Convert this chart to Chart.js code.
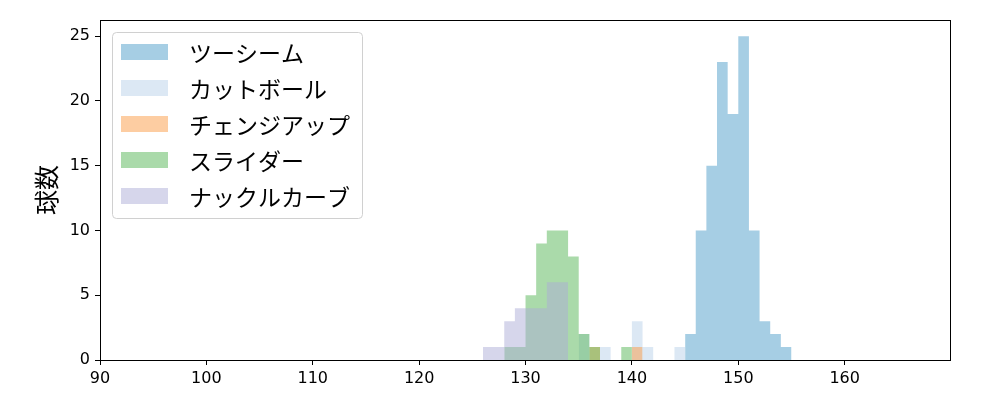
<!DOCTYPE html>
<html>
<head>
<meta charset="utf-8">
<script src="https://cdn.jsdelivr.net/npm/chart.js@4"></script>
<style>
  body { margin: 0; background: #fff; }
</style>
</head>
<body>
<canvas id="chart1" width="1000" height="400"></canvas>
<script>
// 球種ごとのヒストグラム (ビン左端 km/h と球数)
const pitchNames = ['ツーシーム', 'カットボール', 'チェンジアップ', 'スライダー', 'ナックルカーブ'];

const twoSeamBins = [145, 146, 147, 148, 149, 150, 151, 152, 153, 154];
const twoSeamCounts = [2, 10, 15, 23, 19, 25, 10, 3, 2, 1];

const cutBins = [135, 137, 140, 141, 144];
const cutCounts = [2, 1, 3, 1, 1];

const changeupBins = [136, 140];
const changeupCounts = [1, 1];

const sliderBins = [128, 129, 130, 131, 132, 133, 134, 135, 136, 139];
const sliderCounts = [1, 1, 5, 9, 10, 10, 8, 2, 1, 1];

const curveBins = [126, 127, 128, 129, 130, 131, 132, 133];
const curveCounts = [1, 1, 3, 4, 4, 4, 6, 6];

const binWidth = 1;

const xTicks = [90, 100, 110, 120, 130, 140, 150, 160];
const yTicks = [0, 5, 10, 15, 20, 25];

const colors = [
  'rgba(77, 157, 201, 0.5)',
  'rgba(185, 209, 233, 0.5)',
  'rgba(251, 155, 69, 0.5)',
  'rgba(85, 181, 85, 0.5)',
  'rgba(173, 173, 215, 0.5)',
];

const allBins = [twoSeamBins, cutBins, changeupBins, sliderBins, curveBins];
const allCounts = [twoSeamCounts, cutCounts, changeupCounts, sliderCounts, curveCounts];

// ビンを階段状の点列にする (隙間は 0 で埋める)
function stepPoints(bins, counts) {
  const pts = [];
  let end = null;
  bins.forEach((b, i) => {
    if (end !== null && b > end) pts.push({ x: end, y: 0 });
    pts.push({ x: b, y: counts[i] });
    end = b + binWidth;
  });
  pts.push({ x: end, y: 0 });
  return pts;
}

const datasets = pitchNames.map((name, k) => ({
  label: name,
  data: stepPoints(allBins[k], allCounts[k]),
  stepped: 'before',
  fill: 'origin',
  backgroundColor: colors[k],
  borderColor: 'rgba(0,0,0,0)',
  borderWidth: 0,
  pointRadius: 0,
  order: pitchNames.length - k,
}));

const jpFont = '"Noto Sans CJK JP", "Noto Sans", sans-serif';
const numFont = '"DejaVu Sans", sans-serif';

// 枠線と凡例
const framePlugin = {
  id: 'frame',
  afterDraw(chart) {
    const { ctx, chartArea: a } = chart;
    ctx.save();
    ctx.strokeStyle = '#000';
    ctx.lineWidth = 1;
    ctx.strokeRect(Math.round(a.left) + 0.5, Math.round(a.top) + 0.5,
      Math.round(a.right - a.left), Math.round(a.bottom - a.top));

    // legend
    const x0 = 112.5, y0 = 32.5, w = 250, h = 186, r = 4;
    ctx.beginPath();
    ctx.moveTo(x0 + r, y0);
    ctx.arcTo(x0 + w, y0, x0 + w, y0 + h, r);
    ctx.arcTo(x0 + w, y0 + h, x0, y0 + h, r);
    ctx.arcTo(x0, y0 + h, x0, y0, r);
    ctx.arcTo(x0, y0, x0 + w, y0, r);
    ctx.closePath();
    ctx.fillStyle = 'rgba(255,255,255,0.8)';
    ctx.fill();
    ctx.strokeStyle = '#d0d0d0';
    ctx.stroke();

    ctx.font = '23px ' + jpFont;
    ctx.textBaseline = 'middle';
    ctx.textAlign = 'left';
    chart.data.datasets.forEach((ds, i) => {
      const cy = 52 + i * 36;
      ctx.fillStyle = ds.backgroundColor;
      ctx.fillRect(121, cy - 8, 47, 16);
      ctx.fillStyle = '#000';
      ctx.fillText(ds.label, 189, cy + 1);
    });
    ctx.restore();
  }
};

const config = {
  type: 'line',
  data: { datasets: datasets },
  options: {
    responsive: false,
    animation: false,
    layout: { padding: { top: 20, right: 50, left: 0, bottom: 0 } },
    plugins: { legend: { display: false }, tooltip: { enabled: false } },
    scales: {
      x: {
        type: 'linear',
        min: 90,
        max: 169.9,
        grid: { drawOnChartArea: false, color: '#000', tickLength: 5 },
        border: { color: '#000', width: 1 },
        ticks: { color: '#000', padding: 4, font: { family: numFont, size: 16 }, maxRotation: 0 },
        afterBuildTicks(scale) { scale.ticks = xTicks.map(v => ({ value: v })); },
        afterFit(scale) { scale.height = 40; },
      },
      y: {
        min: 0,
        max: 26.25,
        grid: { drawOnChartArea: false, color: '#000', tickLength: 5 },
        border: { color: '#000', width: 1 },
        ticks: { color: '#000', padding: 5, font: { family: numFont, size: 16 } },
        afterBuildTicks(scale) { scale.ticks = yTicks.map(v => ({ value: v })); },
        afterFit(scale) { scale.width = 100; },
        title: {
          display: true,
          text: '球数',
          color: '#000',
          font: { family: jpFont, size: 25 },
          padding: { top: 31, bottom: 0 },
        },
      },
    },
  },
  plugins: [framePlugin],
};

const myChart = new Chart(document.getElementById('chart1'), config);
</script>
</body>
</html>
